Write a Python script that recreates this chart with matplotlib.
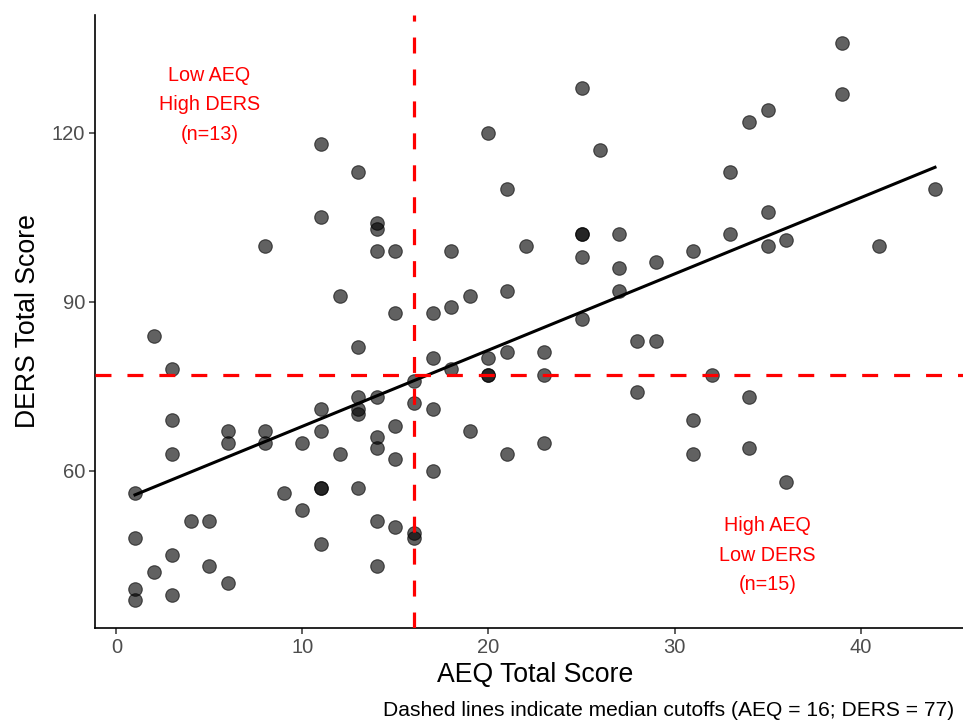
#! /usr/bin/env python3

import matplotlib
matplotlib.use("Agg")
import matplotlib.pyplot as plt
import numpy as np

plt.rcParams['font.family'] = ['Liberation Sans', 'DejaVu Sans']

# AEQ / DERS total scores
aeq = [1, 1, 1, 1, 2, 2, 3, 3, 3, 3, 3, 4, 5, 5, 6, 6, 6, 8, 8, 8, 9, 10, 10,
       11, 11, 11, 11, 11, 11, 11, 12, 12, 13, 13, 13, 13, 13, 13,
       14, 14, 14, 14, 14, 14, 14, 14, 15, 15, 15, 15, 15, 16, 16, 16, 16,
       17, 17, 17, 17, 18, 18, 18, 19, 19, 20, 20, 20, 20, 21, 21, 21, 21,
       22, 23, 23, 23, 25, 25, 25, 25, 25, 26, 27, 27, 27, 28, 28, 29, 29,
       31, 31, 31, 32, 33, 33, 34, 34, 34, 35, 35, 35, 36, 36, 39, 39, 41, 44]
ders = [56, 48, 39, 37, 84, 42, 78, 69, 63, 45, 38, 51, 51, 43, 67, 65, 40, 100, 67, 65, 56, 65, 53,
        118, 105, 71, 67, 57, 57, 47, 91, 63, 113, 82, 73, 71, 70, 57,
        104, 103, 99, 73, 66, 64, 51, 43, 99, 88, 68, 62, 50, 76, 72, 49, 48,
        88, 80, 71, 60, 99, 89, 78, 91, 67, 120, 80, 77, 77, 110, 92, 81, 63,
        100, 81, 77, 65, 128, 102, 102, 98, 87, 117, 102, 96, 92, 83, 74, 97, 83,
        99, 69, 63, 77, 113, 102, 122, 73, 64, 124, 106, 100, 101, 58, 136, 127, 100, 110]

aeq_cut = 16
ders_cut = 77
x_ticks = [0, 10, 20, 30, 40]
y_ticks = [60, 90, 120]
label_low_high = "Low AEQ\nHigh DERS\n(n=13)"
label_high_low = "High AEQ\nLow DERS\n(n=15)"
caption = "Dashed lines indicate median cutoffs (AEQ = 16; DERS = 77)"

x = np.array(aeq)
y = np.array(ders)

fig = plt.figure(figsize=(9.63, 7.25), dpi=100)
# panel runs a little past the right edge, like the cropped original
ax = fig.add_axes([95 / 963, 97 / 725, 880 / 963, 613 / 725])

ax.scatter(x, y, s=95, c='black', alpha=0.62, edgecolors='black',
           linewidths=0.8, zorder=2)

# least squares line
slope, intercept = np.polyfit(x, y, 1)
xs = np.array([x.min(), x.max()])
ax.plot(xs, intercept + slope * xs, color='black', lw=2.2, zorder=3)

ax.axvline(aeq_cut, color='red', lw=2.3, ls=(0, (5, 5)), zorder=4)
ax.axhline(ders_cut, color='red', lw=2.3, ls=(0, (5, 5)), zorder=4)

ax.text(5, 125, label_low_high, color='red', fontsize=14.2, ha='center',
        va='center', linespacing=1.7)
ax.text(35, 45, label_high_low, color='red', fontsize=14.2, ha='center',
        va='center', linespacing=1.7)

ax.set_xlim(-1.15, 46.15)
ax.set_ylim(32.05, 140.95)
ax.set_xticks(x_ticks)
ax.set_yticks(y_ticks)
ax.tick_params(length=4, width=1.1, color='#333333', labelcolor='#4D4D4D',
               labelsize=14.5, pad=3)
for side in ['top', 'right']:
    ax.spines[side].set_visible(False)
for side in ['left', 'bottom']:
    ax.spines[side].set_linewidth(1.2)

ax.set_xlabel("AEQ Total Score", fontsize=19.2, labelpad=4)
ax.set_ylabel("DERS Total Score", fontsize=19.2, labelpad=8)

fig.text(383 / 963, 14 / 725, caption, fontsize=15.1, ha='left', va='center')

fig.savefig("out.png", dpi=100)
